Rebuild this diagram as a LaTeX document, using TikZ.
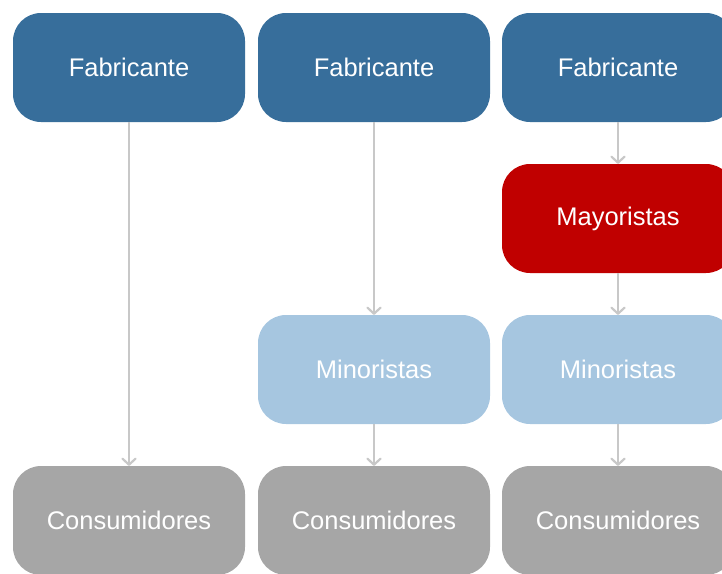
\documentclass[tikz,border=0pt]{standalone}
\usepackage{fontspec}
\setmainfont{Liberation Sans}
\usetikzlibrary{arrows.meta}
\definecolor{fab}{RGB}{55,110,155}
\definecolor{may}{RGB}{192,0,0}
\definecolor{mino}{RGB}{166,198,224}
\definecolor{cons}{RGB}{166,166,166}
\definecolor{conn}{RGB}{200,200,200}
\tikzset{
  box/.style={rounded corners=28pt, minimum width=232pt, minimum height=109pt, inner sep=0pt, text=white, font=\fontsize{25.5}{28}\selectfont},
  fabbox/.style={box, fill=fab},
  maybox/.style={box, fill=may},
  minobox/.style={box, fill=mino},
  consbox/.style={box, fill=cons},
  link/.style={draw=conn, line width=2.4pt, -{Straight Barb[length=6pt,width=13pt,line width=2.2pt,round]}}
}
\begin{document}
\begin{tikzpicture}[x=1pt,y=1pt]
\useasboundingbox (0,0) rectangle (722,-573);
\node[fabbox] (f1) at (129,-67.5) {Fabricante};
\node[fabbox] (f2) at (374,-67.5) {Fabricante};
\node[fabbox] (f3) at (618,-67.5) {Fabricante};
\node[maybox] (m3) at (618,-218.5) {Mayoristas};
\node[minobox] (n2) at (374,-369.5) {Minoristas};
\node[minobox] (n3) at (618,-369.5) {Minoristas};
\node[consbox] (c1) at (129,-520.5) {Consumidores};
\node[consbox] (c2) at (374,-520.5) {Consumidores};
\node[consbox] (c3) at (618,-520.5) {Consumidores};
\draw[link] (f1) -- (c1);
\draw[link] (f2) -- (n2);
\draw[link] (n2) -- (c2);
\draw[link] (f3) -- (m3);
\draw[link] (m3) -- (n3);
\draw[link] (n3) -- (c3);
\end{tikzpicture}
\end{document}
